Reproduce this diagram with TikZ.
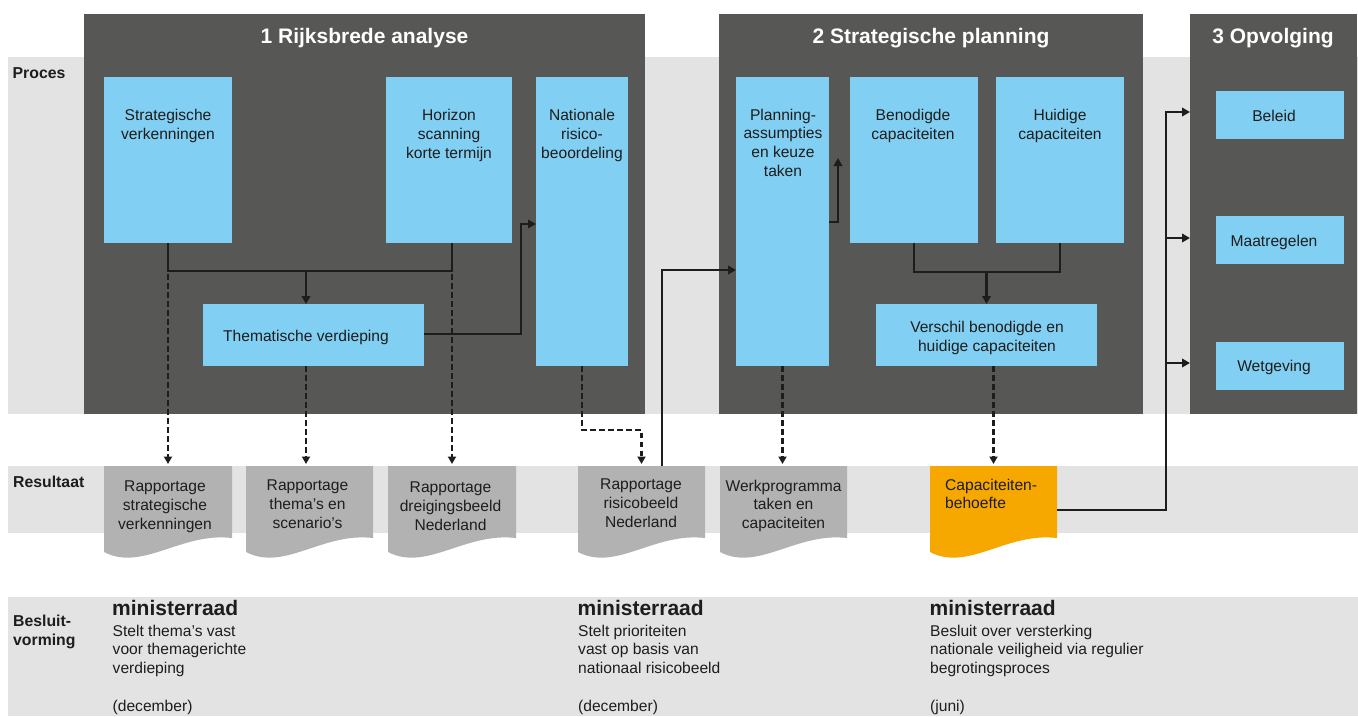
\documentclass[tikz,border=0pt]{standalone}
\usepackage{fontspec}
\setmainfont{Liberation Sans}
\usetikzlibrary{arrows.meta,fit,calc}

\definecolor{panel}{HTML}{575756}
\definecolor{band}{HTML}{E3E3E3}
\definecolor{sky}{HTML}{82CFF4}
\definecolor{sheet}{HTML}{B2B2B2}
\definecolor{amber}{HTML}{F6A800}
\definecolor{ink}{HTML}{1D1D1B}

\newcommand\txtfont{\fontsize{15.6}{18.8}\selectfont}
\newcommand\headfont{\fontsize{21}{24}\selectfont\bfseries}
\newcommand\lblfont{\fontsize{15.8}{19}\selectfont\bfseries}

% document sheet with a wavy lower edge: name, left x, right x, fill colour
\newcommand\docsheet[4]{%
  \fill[#4] (#2,466) -- (#3,466) -- (#3,538)
    .. controls ({#2+0.6*(#3-#2)},532) and ({#2+0.3*(#3-#2)},572) .. (#2,552) -- cycle;
  \node[fit={(#2,466) (#3,538)}, inner sep=0pt, outer sep=0pt] (#1) {};
}

\tikzset{
  panelbox/.style={fill=panel, inner sep=0pt, outer sep=0pt},
  skybox/.style={fill=sky, inner sep=0pt, outer sep=0pt},
  boxtext/.style={text=ink, font=\txtfont, align=center, inner sep=0pt, anchor=north},
  paneltitle/.style={text=white, font=\headfont, inner sep=0pt, anchor=base},
  rowlabel/.style={text=ink, font=\lblfont, inner sep=0pt, align=left},
  decision/.style={text=ink, font=\txtfont, align=left, inner sep=0pt, anchor=north west},
  council/.style={text=ink, font=\headfont, inner sep=0pt, anchor=base west},
  flow/.style={draw=ink, line width=2.5pt},
  flowarrow/.style={flow, -{Triangle[width=8.5pt,length=8pt]}},
  resultarrow/.style={draw=ink, line width=2.2pt, dash pattern=on 5.5pt off 3.5pt,
    -{Triangle[width=8pt,length=7.5pt]}, shorten >=2pt},
}

\begin{document}
\begin{tikzpicture}[x=1pt,y=-1pt]
\useasboundingbox (0,0) rectangle (1358,716);

% horizontal rows
\fill[band] (8,57) rectangle (1358,414);
\fill[band] (8,466) rectangle (1358,533);
\fill[band] (8,597) rectangle (1358,716);

% phase panels
\node[panelbox, fit={(84,14) (645,414)}] (p1) {};
\node[panelbox, fit={(719,14) (1143,414)}] (p2) {};
\node[panelbox, fit={(1190,14) (1357,414)}] (p3) {};
\node[paneltitle] (p1t) at (364.5,43.3) {1 Rijksbrede analyse};
\node[paneltitle] (p2t) at (931,43.3) {2 Strategische planning};
\node[paneltitle] (p3t) at (1273,43.3) {3 Opvolging};

% row labels
\node[rowlabel, anchor=base west] (lproc) at (12.5,78) {Proces};
\node[rowlabel, anchor=base west] (lres) at (13,487.5) {Resultaat};
\node[rowlabel, anchor=north west] (lbes) at (13,614.5) {Besluit-\\vorming};

% phase 1 boxes
\node[skybox, fit={(104,77) (232,243)}] (sv) {};
\node[skybox, fit={(386,77) (512,243)}] (hs) {};
\node[skybox, fit={(536,77) (628,366)}] (nr) {};
\node[skybox, fit={(203,304) (424,366)}] (td) {};
\node[boxtext] (svt) at (168,109) {Strategische\\verkenningen};
\node[boxtext] (hst) at (449,109) {Horizon\\scanning\\korte termijn};
\node[boxtext] (nrt) at (582,109) {Nationale\\risico-\\beoordeling};
\node[boxtext] (tdt) at (306,329.5) {Thematische verdieping};

% phase 2 boxes
\node[skybox, fit={(736,77) (829,366)}] (pa) {};
\node[skybox, fit={(850,77) (978,243)}] (bc) {};
\node[skybox, fit={(996,77) (1124,243)}] (hc) {};
\node[skybox, fit={(876,304) (1097,366)}] (vc) {};
\node[boxtext] (pat) at (783,108.5) {Planning-\\assumpties\\en keuze\\taken};
\node[boxtext] (bct) at (913,109) {Benodigde\\capaciteiten};
\node[boxtext] (hct) at (1060,109) {Huidige\\capaciteiten};
\node[boxtext] (vct) at (987,321) {Verschil benodigde en\\huidige capaciteiten};

% phase 3 boxes
\node[skybox, fit={(1216,91) (1344,139)}] (o1) {};
\node[skybox, fit={(1216,216) (1344,264)}] (o2) {};
\node[skybox, fit={(1216,342) (1344,390)}] (o3) {};
\node[boxtext] (o1t) at (1274,109.5) {Beleid};
\node[boxtext] (o2t) at (1274,234.5) {Maatregelen};
\node[boxtext] (o3t) at (1274,359.5) {Wetgeving};

% result documents
\docsheet{d1}{104}{232}{sheet}
\docsheet{d2}{246}{373}{sheet}
\docsheet{d3}{388}{516}{sheet}
\docsheet{d4}{578}{705}{sheet}
\docsheet{d5}{720}{847}{sheet}
\docsheet{d6}{930}{1057}{amber}
\node[boxtext] (d1t) at (165,480.5) {Rapportage\\strategische\\verkenningen};
\node[boxtext] (d2t) at (307.5,480) {Rapportage\\thema’s en\\scenario’s};
\node[boxtext] (d3t) at (450.5,482) {Rapportage\\dreigingsbeeld\\Nederland};
\node[boxtext] (d4t) at (641,478.5) {Rapportage\\risicobeeld\\Nederland};
\node[boxtext] (d5t) at (783.5,479.5) {Werkprogramma\\taken en\\capaciteiten};
\node[boxtext, align=left, anchor=north west] (d6t) at (945,478.5) {Capaciteiten-\\behoefte};

% decisions
\node[council] (m1) at (112,615.7) {ministerraad};
\node[decision] (m1t) at (112.5,624.5) {Stelt thema’s vast\\voor themagerichte\\verdieping\\[18.8pt](december)};
\node[council] (m2) at (577.5,615.7) {ministerraad};
\node[decision] (m2t) at (578,624.5) {Stelt prioriteiten\\vast op basis van\\nationaal risicobeeld\\[18.8pt](december)};
\node[council] (m3) at (929.5,615.7) {ministerraad};
\node[decision] (m3t) at (930,624.5) {Besluit over versterking\\nationale veiligheid via regulier\\begrotingsproces\\[18.8pt](juni)};

% phase 1 flows
\coordinate (tx) at (306,0);
\draw[flow] (sv.south) |- (d3.north |- 0,271) -- (d3.north |- hs.south);
\draw[flowarrow] (tx |- 0,271) -- (tx |- td.north);
\coordinate (k1) at (521,224);
\draw[flowarrow] (td.east |- 0,334) -| (k1) -- (k1 -| nr.west);

% phase 1 results
\draw[resultarrow] (sv.south |- 0,274) -- (d1.north);
\draw[resultarrow] (tx |- td.south) -- (tx |- d2.north);
\draw[resultarrow] (d3.north |- 0,274) -- (d3.north);
\draw[resultarrow] (nr.south) -- (nr.south |- 0,430) -| (d4.north);

% phase 2 flows
\draw[flowarrow] ([xshift=20.5pt]d4.north) |- (pa.west |- 0,270);
\coordinate (up) at (838,158);
\draw[flowarrow] (pa.east |- 0,222) -| (up);
\draw[flow] (bc.south) |- (hc.south |- 0,272) -- (hc.south);
\draw[flowarrow] (vc.north |- 0,272) -- (vc.north);

% phase 2 results
\draw[resultarrow] (pa.south) -- (pa.south |- d5.north);
\draw[resultarrow] (d6.north |- vc.south) -- (d6.north);

% follow-up
\coordinate (bus) at (1166,112);
\draw[flowarrow] (d6.east |- 0,510) -| (bus) -- (bus -| p3.west);
\draw[flowarrow] (bus |- 0,238) -- (p3.west |- 0,238);
\draw[flowarrow] (bus |- 0,363) -- (p3.west |- 0,363);
\end{tikzpicture}
\end{document}
